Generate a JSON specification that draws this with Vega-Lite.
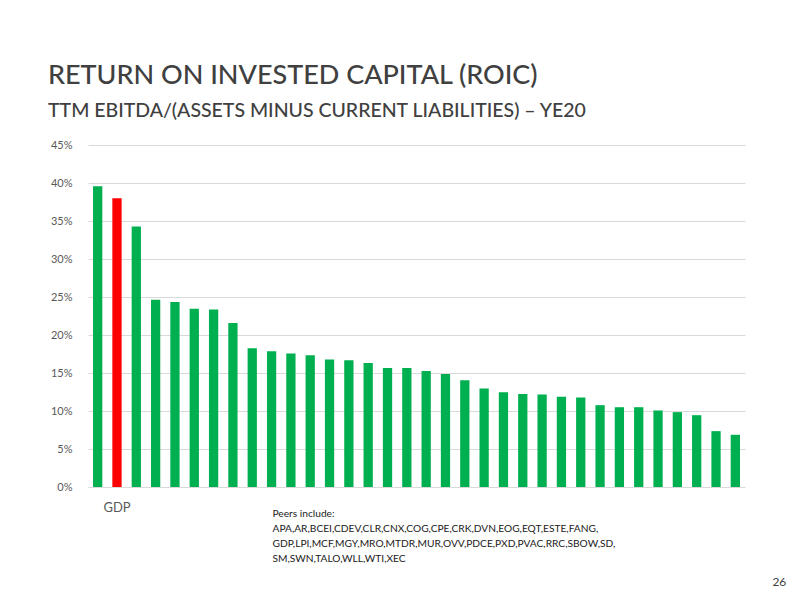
{
  "$schema": "https://vega.github.io/schema/vega-lite/v6.json",
  "autosize": "none",
  "width": 657,
  "height": 342,
  "padding": {"left": 88, "top": 145, "right": 55, "bottom": 113},
  "background": "white",
  "config": {
    "view": {"stroke": null},
    "font": "Lato"
  },
  "title": {
    "text": "RETURN ON INVESTED CAPITAL (ROIC)",
    "subtitle": "TTM EBITDA/(ASSETS MINUS CURRENT LIABILITIES) – YE20",
    "anchor": "start",
    "frame": "group",
    "dx": -40,
    "offset": 18,
    "font": "Lato",
    "fontSize": 27,
    "fontWeight": 500,
    "color": "#404040",
    "subtitleFont": "Lato",
    "subtitleFontSize": 19.5,
    "subtitleFontWeight": 500,
    "subtitleColor": "#404040",
    "subtitlePadding": 12
  },
  "data": {
    "values": [
      {"company": "P1", "roic": 0.3956, "group": "peer"},
      {"company": "GDP", "roic": 0.3799, "group": "GDP"},
      {"company": "P2", "roic": 0.3427, "group": "peer"},
      {"company": "P3", "roic": 0.2464, "group": "peer"},
      {"company": "P4", "roic": 0.2433, "group": "peer"},
      {"company": "P5", "roic": 0.2346, "group": "peer"},
      {"company": "P6", "roic": 0.2337, "group": "peer"},
      {"company": "P7", "roic": 0.2158, "group": "peer"},
      {"company": "P8", "roic": 0.1825, "group": "peer"},
      {"company": "P9", "roic": 0.1786, "group": "peer"},
      {"company": "P10", "roic": 0.1755, "group": "peer"},
      {"company": "P11", "roic": 0.1733, "group": "peer"},
      {"company": "P12", "roic": 0.1676, "group": "peer"},
      {"company": "P13", "roic": 0.1667, "group": "peer"},
      {"company": "P14", "roic": 0.1632, "group": "peer"},
      {"company": "P15", "roic": 0.1567, "group": "peer"},
      {"company": "P16", "roic": 0.1567, "group": "peer"},
      {"company": "P17", "roic": 0.1527, "group": "peer"},
      {"company": "P18", "roic": 0.1488, "group": "peer"},
      {"company": "P19", "roic": 0.1405, "group": "peer"},
      {"company": "P20", "roic": 0.1295, "group": "peer"},
      {"company": "P21", "roic": 0.1247, "group": "peer"},
      {"company": "P22", "roic": 0.1225, "group": "peer"},
      {"company": "P23", "roic": 0.1217, "group": "peer"},
      {"company": "P24", "roic": 0.1186, "group": "peer"},
      {"company": "P25", "roic": 0.1177, "group": "peer"},
      {"company": "P26", "roic": 0.1077, "group": "peer"},
      {"company": "P27", "roic": 0.1050, "group": "peer"},
      {"company": "P28", "roic": 0.1050, "group": "peer"},
      {"company": "P29", "roic": 0.1007, "group": "peer"},
      {"company": "P30", "roic": 0.0985, "group": "peer"},
      {"company": "P31", "roic": 0.0945, "group": "peer"},
      {"company": "P32", "roic": 0.0735, "group": "peer"},
      {"company": "P33", "roic": 0.0687, "group": "peer"}
    ]
  },
  "layer": [
    {
      "mark": {"type": "bar"},
      "encoding": {
        "x": {
          "field": "company",
          "type": "nominal",
          "sort": null,
          "scale": {"paddingInner": 0.52, "paddingOuter": 0.26},
          "axis": {
            "domain": false,
            "ticks": false,
            "labelAngle": 0,
            "labelExpr": "datum.value == 'GDP' ? 'GDP' : ''",
            "labelFont": "Lato",
            "labelFontSize": 13,
            "labelColor": "#595959",
            "labelPadding": 14,
            "title": [
              "Peers include:",
              "APA,AR,BCEI,CDEV,CLR,CNX,COG,CPE,CRK,DVN,EOG,EQT,ESTE,FANG,",
              "GDP,LPI,MCF,MGY,MRO,MTDR,MUR,OVV,PDCE,PXD,PVAC,RRC,SBOW,SD,",
              "SM,SWN,TALO,WLL,WTI,XEC"
            ],
            "titleAnchor": "start",
            "titleAlign": "left",
            "titleBaseline": "top",
            "titleX": 184,
            "titleY": 21,
            "titleFont": "Lato",
            "titleFontSize": 10.2,
            "titleFontWeight": "normal",
            "titleColor": "#1a1a1a",
            "titleLineHeight": 15
          }
        },
        "y": {
          "field": "roic",
          "type": "quantitative",
          "scale": {"domain": [0, 0.45], "nice": false},
          "axis": {
            "values": [0, 0.05, 0.1, 0.15, 0.2, 0.25, 0.3, 0.35, 0.4, 0.45],
            "labelOverlap": false,
            "format": ".0%",
            "domain": false,
            "ticks": false,
            "labelFont": "Lato",
            "labelFontSize": 11,
            "labelColor": "#595959",
            "labelPadding": 16,
            "gridColor": "#d9d9d9",
            "gridWidth": 1,
            "title": null
          }
        },
        "color": {
          "field": "group",
          "type": "nominal",
          "scale": {"domain": ["peer", "GDP"], "range": ["#00b050", "#ff0000"]},
          "legend": null
        }
      }
    },
    {
      "data": {"values": [{}]},
      "mark": {"type": "text", "text": "26", "fontSize": 12, "font": "Lato", "color": "#404040", "align": "center", "dx": 44},
      "encoding": {
        "x": {
          "datum": "P33",
          "type": "nominal",
          "axis": {
            "domain": false,
            "ticks": false,
            "labelAngle": 0,
            "labelExpr": "datum.value == 'GDP' ? 'GDP' : ''",
            "labelFont": "Lato",
            "labelFontSize": 13,
            "labelColor": "#595959",
            "labelPadding": 14,
            "title": [
              "Peers include:",
              "APA,AR,BCEI,CDEV,CLR,CNX,COG,CPE,CRK,DVN,EOG,EQT,ESTE,FANG,",
              "GDP,LPI,MCF,MGY,MRO,MTDR,MUR,OVV,PDCE,PXD,PVAC,RRC,SBOW,SD,",
              "SM,SWN,TALO,WLL,WTI,XEC"
            ],
            "titleAnchor": "start",
            "titleAlign": "left",
            "titleBaseline": "top",
            "titleX": 184,
            "titleY": 21,
            "titleFont": "Lato",
            "titleFontSize": 10.2,
            "titleFontWeight": "normal",
            "titleColor": "#1a1a1a",
            "titleLineHeight": 15
          }
        },
        "y": {
          "datum": -0.125,
          "type": "quantitative",
          "axis": {
            "values": [0, 0.05, 0.1, 0.15, 0.2, 0.25, 0.3, 0.35, 0.4, 0.45],
            "labelOverlap": false,
            "format": ".0%",
            "domain": false,
            "ticks": false,
            "labelFont": "Lato",
            "labelFontSize": 11,
            "labelColor": "#595959",
            "labelPadding": 16,
            "gridColor": "#d9d9d9",
            "gridWidth": 1,
            "title": null
          }
        }
      }
    }
  ]
}
